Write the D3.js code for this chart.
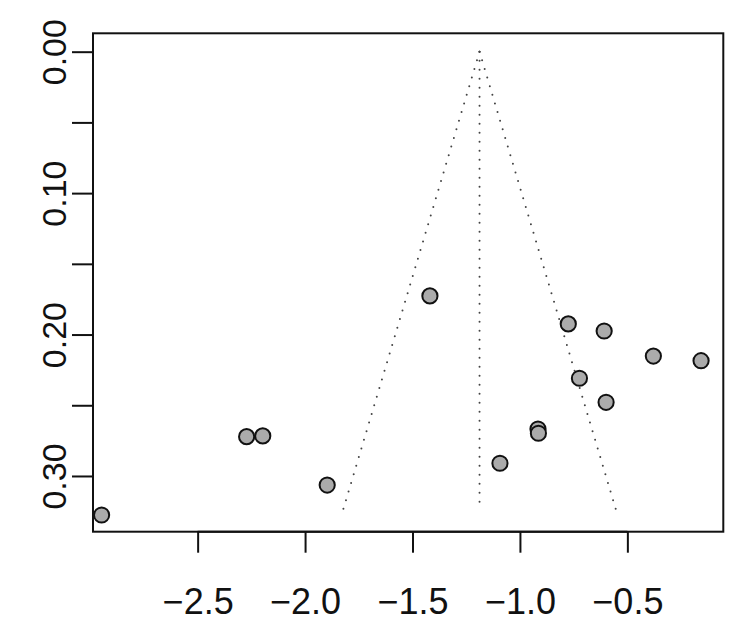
<!DOCTYPE html>
<html>
<head>
<meta charset="utf-8">
<script src="https://cdn.jsdelivr.net/npm/d3@7"></script>
<style>
  html, body { margin: 0; padding: 0; background: #fff; }
  svg { display: block; }
  text { font-family: "Liberation Sans", Arial, sans-serif; fill: #111; }
</style>
</head>
<body>
<svg id="chart" width="750" height="634"></svg>
<script>
// Observed effect sizes (x) and standard errors (y)
const effects = [-0.775, -0.608, -0.379, -0.157, -0.723, -0.599, -0.916, -0.914, -1.093, -1.419, -2.272, -2.197, -1.897, -2.947];
const stdErrors = [0.1925, 0.1975, 0.2152, 0.2185, 0.2309, 0.2479, 0.2668, 0.2698, 0.2910, 0.1727, 0.2722, 0.2717, 0.3064, 0.3276];
const pooledEstimate = -1.188;
const funnelSe = [0, 0.3245];
const xTicks = [-2.5, -2.0, -1.5, -1.0, -0.5];
const yTicks = [0.00, 0.05, 0.10, 0.15, 0.20, 0.25, 0.30];
const yTickLabels = ["0.00", "", "0.10", "", "0.20", "", "0.30"];

const svg = d3.select("#chart");
const mLeft = 93, mRight = 723.3, mTop = 33.3, mBottom = 531.7;

const x = d3.scaleLinear().domain([-2.987, -0.0535]).range([mLeft, mRight]);
const y = d3.scaleLinear().domain([-0.013, 0.3394]).range([mTop, mBottom]);

// Funnel lines
const lineGen = d3.line().x(d => x(d[0])).y(d => y(d[1]));
const funnel = [
  funnelSe.map(s => [pooledEstimate - 1.96 * s, s]),
  funnelSe.map(s => [pooledEstimate, s]),
  funnelSe.map(s => [pooledEstimate + 1.96 * s, s])
];
svg.append("g").selectAll("path").data(funnel).join("path")
  .attr("d", lineGen)
  .attr("fill", "none")
  .attr("stroke", "#444")
  .attr("stroke-width", 2)
  .attr("stroke-linecap", "round")
  .attr("stroke-dasharray", "0 9");

// Points
const pts = effects.map((e, i) => ({ e, s: stdErrors[i] }));
svg.append("g").selectAll("circle").data(pts).join("circle")
  .attr("cx", d => x(d.e))
  .attr("cy", d => y(d.s))
  .attr("r", 7.6)
  .attr("fill", "#ababab")
  .attr("stroke", "#111")
  .attr("stroke-width", 2);

// Box
svg.append("rect")
  .attr("x", mLeft).attr("y", mTop)
  .attr("width", mRight - mLeft).attr("height", mBottom - mTop)
  .attr("fill", "none").attr("stroke", "#111").attr("stroke-width", 2);

// X axis
const xAxis = d3.axisBottom(x).tickValues(xTicks)
  .tickFormat(d => d3.format(".1f")(d).replace("-", "\u2212"))
  .tickSize(21).tickPadding(0);
const gx = svg.append("g").attr("transform", `translate(0,${mBottom})`).call(xAxis);
gx.select(".domain").attr("d", `M${x(-2.5)},0H${x(-0.5)}`).attr("stroke", "#111").attr("stroke-width", 2);
gx.selectAll(".tick line").attr("stroke", "#111").attr("stroke-width", 2);
gx.selectAll(".tick text").attr("font-size", 36).attr("dy", null).attr("y", 82)
  .attr("fill", "#111");

// Y axis
const yAxis = d3.axisLeft(y).tickValues(yTicks)
  .tickFormat((d, i) => yTickLabels[i])
  .tickSize(21).tickPadding(0);
const gy = svg.append("g").attr("transform", `translate(${mLeft},0)`).call(yAxis);
gy.select(".domain").attr("d", `M0,${y(0)}V${y(0.30)}`).attr("stroke", "#111").attr("stroke-width", 2);
gy.selectAll(".tick line").attr("stroke", "#111").attr("stroke-width", 2);
gy.selectAll(".tick text")
  .attr("font-size", 34)
  .attr("x", null).attr("dy", null)
  .attr("text-anchor", "middle")
  .attr("transform", "translate(-27,0) rotate(-90)")
  .attr("fill", "#111");
</script>
</body>
</html>
